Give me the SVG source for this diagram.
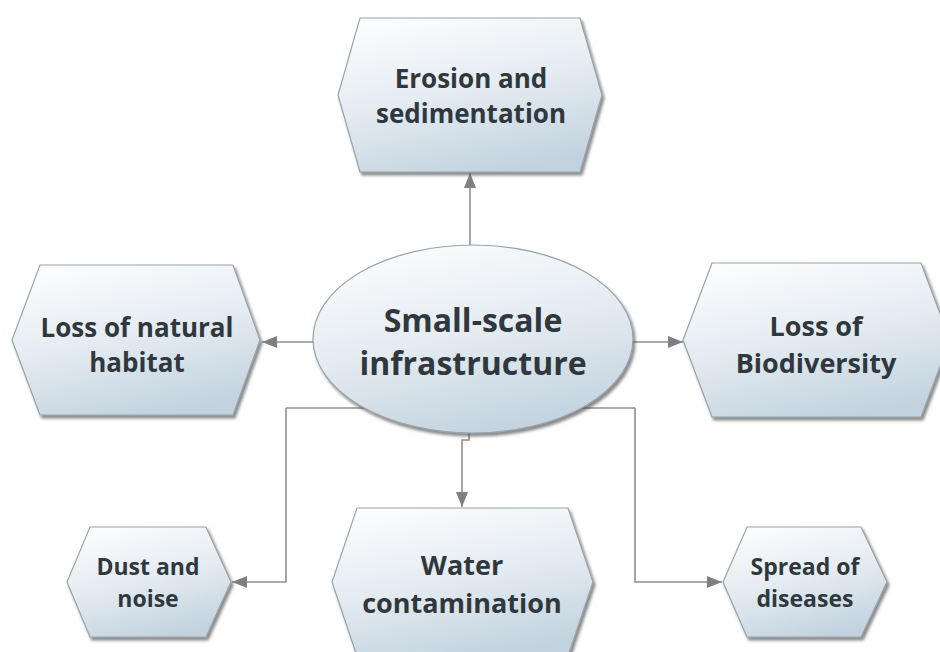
<svg xmlns="http://www.w3.org/2000/svg" width="940" height="652" viewBox="0 0 940 652">
  <defs>
    <style>
      .shape { fill: url(#fillGrad); stroke: #9aa3aa; stroke-width: 1.2; filter: url(#shadow); }
      .label { font-family: "Open Sans", "Noto Sans", "Liberation Sans", sans-serif; font-weight: bold; fill: #30383d; text-anchor: middle; }
      .link { fill: none; stroke: #8f8f8f; stroke-width: 1.6; }
    </style>
    <linearGradient id="fillGrad" x1="0.25" y1="0" x2="0.6" y2="1">
      <stop offset="0" stop-color="#fbfcfd"/>
      <stop offset="0.5" stop-color="#e4ebf1"/>
      <stop offset="1" stop-color="#c2d3df"/>
    </linearGradient>
    <filter id="shadow" x="-10%" y="-10%" width="125%" height="130%">
      <feDropShadow dx="2" dy="3" stdDeviation="1.6" flood-color="#4a4a4a" flood-opacity="0.65"/>
    </filter>
    <marker id="arrow" markerUnits="userSpaceOnUse" markerWidth="15" markerHeight="12" refX="15" refY="6" orient="auto">
      <path d="M0,0 L15,6 L0,12 z" fill="#7f7f7f"/>
    </marker>
  </defs>

  <rect width="940" height="652" fill="#ffffff"/>

  <!-- connectors (drawn first so the centre ellipse sits on top) -->
  <g id="connectors">
    <path class="link" d="M470,246 V173" marker-end="url(#arrow)"/>
    <path class="link" d="M314,342 H262" marker-end="url(#arrow)"/>
    <path class="link" d="M632,342 H683" marker-end="url(#arrow)"/>
    <path class="link" d="M286,408 H635"/>
    <path class="link" d="M286,408 V582 H232" marker-end="url(#arrow)"/>
    <path class="link" d="M635,408 V582 H722" marker-end="url(#arrow)"/>
    <path class="link" d="M469,432 V440 H462 V507" marker-end="url(#arrow)"/>
  </g>

  <g id="center">
    <ellipse class="shape" cx="473" cy="339" rx="160" ry="94"/>
    <text class="label" font-size="32" x="473" y="332">Small-scale</text>
    <text class="label" font-size="32" x="473" y="375">infrastructure</text>
  </g>

  <g id="erosion">
    <polygon class="shape" points="360,18 580,18 602,95 580,172 360,172 338,95"/>
    <text class="label" font-size="26" x="471" y="88">Erosion and</text>
    <text class="label" font-size="26" x="471" y="123">sedimentation</text>
  </g>

  <g id="habitat">
    <polygon class="shape" points="40,265 233,265 260,340 233,415 40,415 12,340"/>
    <text class="label" font-size="26" x="137" y="337">Loss of natural</text>
    <text class="label" font-size="26" x="137" y="372">habitat</text>
  </g>

  <g id="biodiversity">
    <polygon class="shape" points="712,263 921,263 950,340 921,417 712,417 683,340"/>
    <text class="label" font-size="27" x="816" y="336">Loss of</text>
    <text class="label" font-size="27" x="816" y="373">Biodiversity</text>
  </g>

  <g id="dust">
    <polygon class="shape" points="90,527 206,527 231,582 206,637 90,637 67,582"/>
    <text class="label" font-size="23" x="148" y="575">Dust and</text>
    <text class="label" font-size="23" x="148" y="607">noise</text>
  </g>

  <g id="water">
    <polygon class="shape" points="357,508 568,508 593,582 568,656 357,656 332,582"/>
    <text class="label" font-size="27" x="462" y="575">Water</text>
    <text class="label" font-size="27" x="462" y="613">contamination</text>
  </g>

  <g id="diseases">
    <polygon class="shape" points="747,527 861,527 887,582 861,637 747,637 723,582"/>
    <text class="label" font-size="23" x="805" y="575">Spread of</text>
    <text class="label" font-size="23" x="805" y="607">diseases</text>
  </g>
</svg>
